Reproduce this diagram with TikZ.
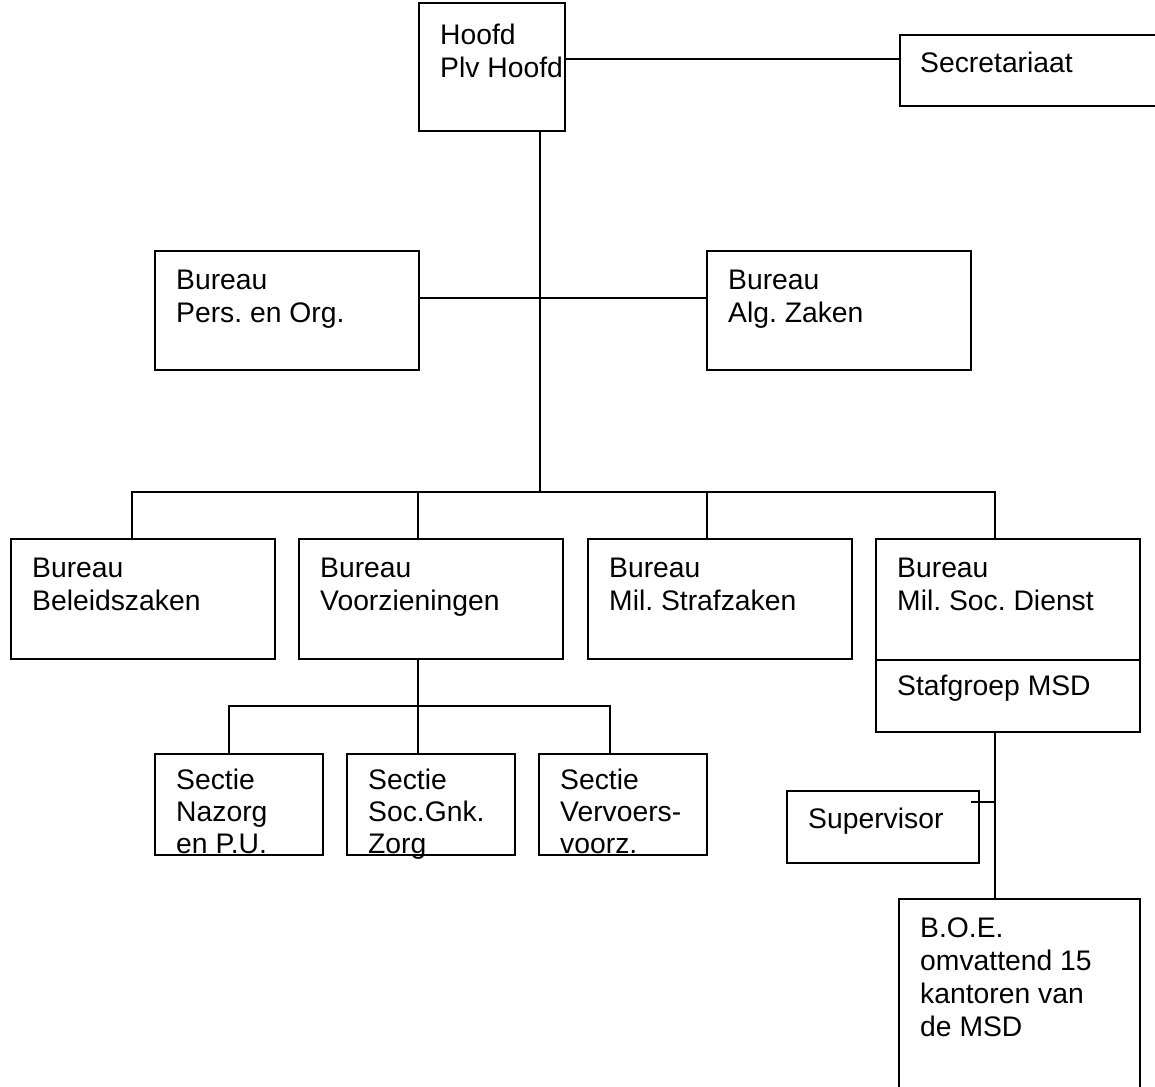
\documentclass[tikz,border=0pt]{standalone}
\usepackage{fontspec}
\setmainfont{Liberation Sans}
\newcommand\firstln{\rule{0pt}{26pt}}
\begin{document}
\frenchspacing
\begin{tikzpicture}[x=1pt,y=-1pt,
  box/.style={draw, line width=1.8pt, rectangle, inner sep=0pt, outer sep=0pt},
  lbl/.style={anchor=north west, inner sep=0pt, align=left,
              font=\fontsize{28.3}{33}\selectfont},
  tight/.style={font=\fontsize{28.3}{32}\selectfont},
  link/.style={line width=1.8pt}]
\useasboundingbox (0,0) rectangle (1155,1086);
\clip (0,0) rectangle (1155,1086);

% ---- boxes
\node[box, minimum width=146pt, minimum height=128pt] (hoofd) at (492,67) {};
\node[box, minimum width=265pt, minimum height=71pt]  (secr)  at (1032.5,70.5) {};
\node[box, minimum width=264pt, minimum height=119pt] (pers)  at (287,310.5) {};
\node[box, minimum width=264pt, minimum height=119pt] (alg)   at (839,310.5) {};
\node[box, minimum width=264pt, minimum height=120pt] (beleid) at (143,599) {};
\node[box, minimum width=264pt, minimum height=120pt] (voorz) at (431,599) {};
\node[box, minimum width=264pt, minimum height=120pt] (straf) at (720,599) {};
\node[box, minimum width=264pt, minimum height=193pt] (msd)   at (1008,635.5) {};
\node[box, minimum width=168pt, minimum height=101pt] (sec1)  at (239,804.5) {};
\node[box, minimum width=168pt, minimum height=101pt] (sec2)  at (431,804.5) {};
\node[box, minimum width=168pt, minimum height=101pt] (sec3)  at (623,804.5) {};
\node[box, minimum width=192pt, minimum height=72pt]  (supv)  at (883,827) {};
\node[box, minimum width=241pt, minimum height=201pt] (boe)   at (1019.5,999.5) {};

% divider inside the MSD box
\coordinate (divy) at (0,660);
\draw[link] (msd.west |- divy) -- (msd.east |- divy);

% ---- texts (first baseline about 38pt below the box top)
\node[lbl] (thoofd)  at (440,18)  {\firstln Hoofd\\Plv Hoofd};
\node[lbl] (tsecr)   at (920,46)  {\firstln Secretariaat};
\node[lbl] (tpers)   at (176,263) {\firstln Bureau\\Pers. en Org.};
\node[lbl] (talg)    at (728,263) {\firstln Bureau\\Alg. Zaken};
\node[lbl] (tbeleid) at (32,551)  {\firstln Bureau\\Beleidszaken};
\node[lbl] (tvoorz)  at (320,551) {\firstln Bureau\\Voorzieningen};
\node[lbl] (tstraf)  at (609,551) {\firstln Bureau\\Mil. Strafzaken};
\node[lbl] (tmsd)    at (897,551) {\firstln Bureau\\Mil. Soc. Dienst};
\node[lbl] (tstaf)   at (897,669) {\firstln Stafgroep MSD};
\node[lbl, tight] (tsec1) at (176,763) {\firstln Sectie\\Nazorg\\en P.U.};
\node[lbl, tight] (tsec2) at (368,763) {\firstln Sectie\\Soc.Gnk.\\Zorg};
\node[lbl, tight] (tsec3) at (560,763) {\firstln Sectie\\Vervoers-\\voorz.};
\node[lbl] (tsupv)   at (808,802) {\firstln Supervisor};
\node[lbl] (tboe)    at (920,911) {\firstln B.O.E.\\omvattend 15\\kantoren van\\de MSD};

% ---- connector points
\coordinate (hsy)  at (0,59);
\coordinate (pay)  at (0,298);
\coordinate (bus)  at (540,492);
\coordinate (x1)   at (132,0);
\coordinate (x2)   at (418,0);
\coordinate (x3)   at (707,0);
\coordinate (x4)   at (995,0);
\coordinate (vbus) at (418,706);
\coordinate (s1x)  at (229,0);
\coordinate (s3x)  at (610,0);
\coordinate (tick) at (995,802);

% ---- connectors
\draw[link] (hoofd.east |- hsy) -- (secr.west |- hsy);
\draw[link] (hoofd.south -| bus) -- (bus);
\draw[link] (pers.east |- pay) -- (alg.west |- pay);
\draw[link] (beleid.north -| x1) |- (bus) -| (msd.north -| x4);
\draw[link] (voorz.north -| x2) -- (bus -| x2);
\draw[link] (straf.north -| x3) -- (bus -| x3);
\draw[link] (voorz.south -| vbus) -- (vbus);
\draw[link] (sec1.north -| s1x) |- (vbus) -| (sec3.north -| s3x);
\draw[link] (sec2.north -| vbus) -- (vbus);
\draw[link] (msd.south -| x4) -- (boe.north -| x4);
\draw[link] ([xshift=-8pt]supv.east |- tick) -- (tick);
\end{tikzpicture}
\end{document}
